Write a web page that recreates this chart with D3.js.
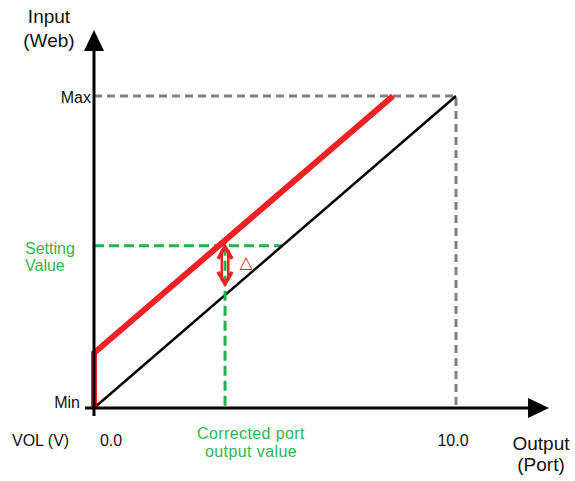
<!DOCTYPE html>
<html>
<head>
<meta charset="utf-8">
<script src="https://cdn.jsdelivr.net/npm/d3@7"></script>
<style>
  body { margin: 0; background: #fff; }
  text { font-family: "Liberation Sans", Arial, sans-serif; }
</style>
</head>
<body>
<div id="chart"></div>
<script>
// Output (Port) voltage axis and Input (Web) axis, in data units
const outputTicks = [0, 10];
const outputTickLabels = ['0.0', '10.0'];
const inputTicks = [0, 100];
const inputTickLabels = ['Min', 'Max'];

// ideal (uncorrected) characteristic
const idealLine = [[0, 0], [10, 100]];
// corrected characteristic with offset
const correctedLine = [[0, 0], [0, 17.6], [8.26, 100]];

const settingValue = 52;
const settingLineEnd = 5.2;      // where the setting line meets the ideal line
const correctedOutput = 3.62;    // corrected port output value (V)
const deltaArrow = [[3.62, 52], [3.62, 39.5]];

const width = 575, height = 481;
const svg = d3.select('#chart').append('svg')
    .attr('width', width)
    .attr('height', height);

const x = d3.scaleLinear().domain([0, 10]).range([94, 456]);
const y = d3.scaleLinear().domain([0, 100]).range([408, 96]);

const red = '#ee2224', green = '#22b14c', gray = '#808080';

// Gray max guide lines
svg.append('path')
    .attr('d', d3.line()([[x(0), y(100)], [x(10), y(100)], [x(10), y(0)]]))
    .attr('fill', 'none')
    .attr('stroke', gray)
    .attr('stroke-width', 3)
    .attr('stroke-dasharray', '8,5');

// Green setting value guide lines
svg.append('line')
    .attr('x1', x(0)).attr('y1', y(settingValue))
    .attr('x2', x(settingLineEnd)).attr('y2', y(settingValue))
    .attr('stroke', green).attr('stroke-width', 3)
    .attr('stroke-dasharray', '10,5');

// Ideal line
const line = d3.line().x(d => x(d[0])).y(d => y(d[1]));
svg.append('path')
    .datum(idealLine)
    .attr('d', line)
    .attr('fill', 'none')
    .attr('stroke', '#000')
    .attr('stroke-width', 2.5);

// Corrected line
svg.append('path')
    .datum(correctedLine)
    .attr('d', line)
    .attr('fill', 'none')
    .attr('stroke', red)
    .attr('stroke-width', 6)
    .attr('stroke-linejoin', 'miter');

// Delta double arrow
const ax = x(deltaArrow[0][0]);
const aTop = y(deltaArrow[0][1]), aBot = y(deltaArrow[1][1]);
svg.append('line')
    .attr('x1', ax).attr('y1', aTop + 4).attr('x2', ax).attr('y2', aBot - 4)
    .attr('stroke', red).attr('stroke-width', 9);
svg.append('line')
    .attr('x1', ax).attr('y1', aTop + 4).attr('x2', ax).attr('y2', aBot - 4)
    .attr('stroke', '#fff').attr('stroke-width', 4);

// Green vertical guide to corrected output
svg.append('line')
    .attr('x1', x(correctedOutput)).attr('y1', y(settingValue))
    .attr('x2', x(correctedOutput)).attr('y2', y(0))
    .attr('stroke', green).attr('stroke-width', 3)
    .attr('stroke-dasharray', '10,5');

svg.append('path')
    .attr('d', `M${ax - 7},${aTop + 13} L${ax},${aTop + 1} L${ax + 7},${aTop + 13}`)
    .attr('fill', 'none').attr('stroke', red).attr('stroke-width', 3.5);
svg.append('path')
    .attr('d', `M${ax - 7},${aBot - 13} L${ax},${aBot - 1} L${ax + 7},${aBot - 13}`)
    .attr('fill', 'none').attr('stroke', red).attr('stroke-width', 3.5);

svg.append('text')
    .attr('x', ax + 21).attr('y', aTop + 22)
    .attr('text-anchor', 'middle')
    .attr('fill', red)
    .style('font-family', 'DejaVu Sans')
    .style('font-size', '17px')
    .text('△');

// Axes with arrowheads
svg.append('line')
    .attr('x1', 85).attr('y1', y(0)).attr('x2', 532).attr('y2', y(0))
    .attr('stroke', '#000').attr('stroke-width', 3);
svg.append('path')
    .attr('d', `M528,${y(0) - 10} L549,${y(0)} L528,${y(0) + 10} Z`)
    .attr('fill', '#000');

svg.append('line')
    .attr('x1', x(0)).attr('y1', 416).attr('x2', x(0)).attr('y2', 48)
    .attr('stroke', '#000').attr('stroke-width', 3);
svg.append('path')
    .attr('d', `M${x(0) - 10},51 L${x(0)},30 L${x(0) + 10},51 Z`)
    .attr('fill', '#000');

// Tick labels
svg.selectAll('.xtick')
    .data(outputTicks)
    .enter().append('text')
    .attr('class', 'xtick')
    .attr('x', (d, i) => i === 0 ? x(d) + 17 : x(d) - 3)
    .attr('y', 446)
    .attr('text-anchor', 'middle')
    .style('font-size', '16px')
    .attr('fill', '#111')
    .text((d, i) => outputTickLabels[i]);

svg.selectAll('.ytick')
    .data(inputTicks)
    .enter().append('text')
    .attr('class', 'ytick')
    .attr('x', (d, i) => i === 0 ? 80 : 91)
    .attr('y', d => y(d) + (d === 0 ? 0 : 7))
    .attr('text-anchor', 'end')
    .style('font-size', '16px')
    .attr('fill', '#111')
    .text((d, i) => inputTickLabels[i]);

svg.append('text')
    .attr('x', 12).attr('y', 446)
    .style('font-size', '16px')
    .attr('fill', '#111')
    .text('VOL (V)');

// Axis titles
svg.append('text')
    .attr('text-anchor', 'middle')
    .style('font-size', '19px')
    .attr('fill', '#111')
    .selectAll('tspan')
    .data(['Input', '(Web)'])
    .enter().append('tspan')
    .attr('x', 49)
    .attr('y', (d, i) => 23 + i * 24)
    .text(d => d);

svg.append('text')
    .attr('text-anchor', 'middle')
    .style('font-size', '19px')
    .attr('fill', '#111')
    .selectAll('tspan')
    .data(['Output', '(Port)'])
    .enter().append('tspan')
    .attr('x', 541)
    .attr('y', (d, i) => 450 + i * 21)
    .text(d => d);

// Green labels
svg.append('text')
    .style('font-size', '16px')
    .attr('fill', '#2db84d')
    .selectAll('tspan')
    .data(['Setting', 'Value'])
    .enter().append('tspan')
    .attr('x', 25)
    .attr('y', (d, i) => 254 + i * 17)
    .text(d => d);

svg.append('text')
    .attr('text-anchor', 'middle')
    .style('font-size', '16px')
    .style('letter-spacing', '0.4px')
    .attr('fill', '#2db84d')
    .selectAll('tspan')
    .data(['Corrected port', 'output value'])
    .enter().append('tspan')
    .attr('x', 251)
    .attr('y', (d, i) => 439 + i * 18)
    .text(d => d);
</script>
</body>
</html>
